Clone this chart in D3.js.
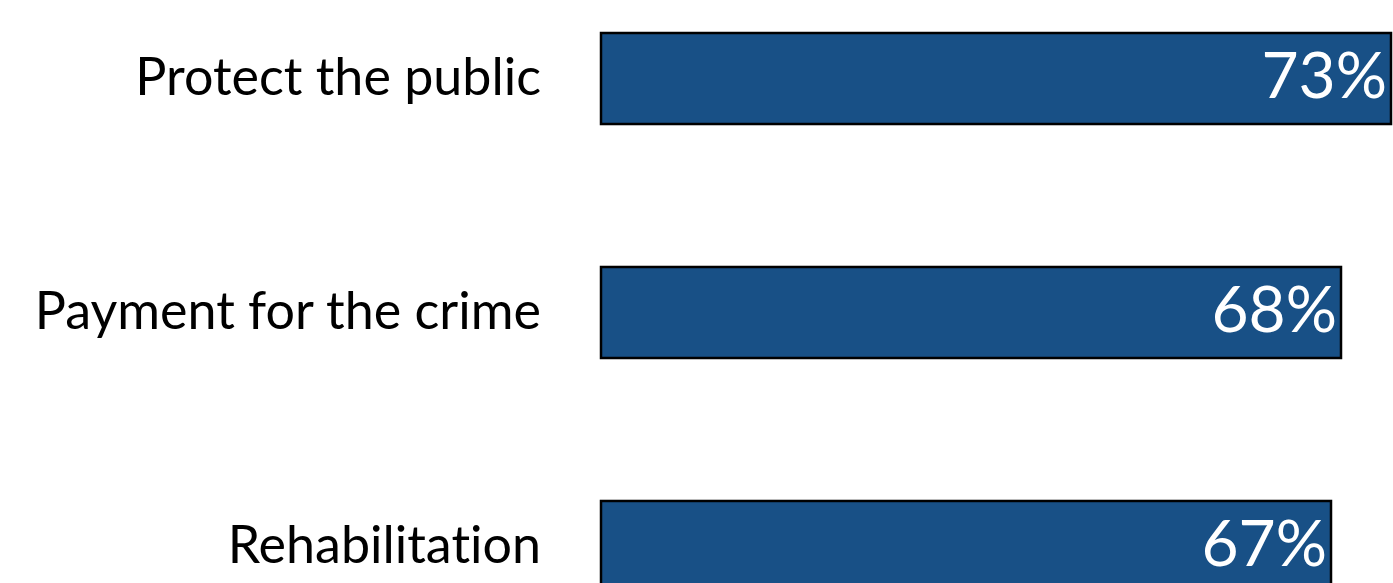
<!DOCTYPE html>
<html>
<head>
<meta charset="utf-8">
<script src="https://cdn.jsdelivr.net/npm/d3@7"></script>
<style>
  html, body { margin: 0; padding: 0; background: #fff; overflow: hidden; }
  svg { display: block; }
  text { font-variant-ligatures: none; font-feature-settings: "liga" 0; }
</style>
</head>
<body>
<svg id="chart" width="1393" height="583"></svg>
<script>
const categories = ["Protect the public", "Payment for the crime", "Rehabilitation"];
const values = [73, 68, 67];
const valueLabels = ["73%", "68%", "67%"];

const svg = d3.select("#chart");
const fontFamily = "Lato, 'Open Sans', sans-serif";

const x = d3.scaleLinear().domain([-6, 73]).range([601, 1391]);
const y = d3.scaleBand().domain(categories).range([33, 592]).paddingInner(0.611).paddingOuter(0);

const rows = categories.map((c, i) => ({ cat: c, val: values[i], label: valueLabels[i] }));

svg.selectAll("rect.bar").data(rows).join("rect")
  .attr("class", "bar")
  .attr("x", x(-6))
  .attr("y", d => y(d.cat))
  .attr("width", d => x(d.val) - x(-6))
  .attr("height", y.bandwidth())
  .attr("fill", "#185086")
  .attr("stroke", "#000")
  .attr("stroke-width", 2.5);

svg.selectAll("text.cat").data(rows).join("text")
  .attr("class", "cat")
  .attr("x", 541)
  .attr("y", d => y(d.cat) + y.bandwidth() / 2)
  .attr("dy", "0.31em")
  .attr("text-anchor", "end")
  .attr("font-family", fontFamily)
  .attr("font-size", 52)
  .attr("fill", "#000")
  .text(d => d.cat);

svg.selectAll("text.val").data(rows).join("text")
  .attr("class", "val")
  .attr("x", d => x(d.val) - 4)
  .attr("y", d => y(d.cat) + y.bandwidth() / 2)
  .attr("dy", "0.31em")
  .attr("text-anchor", "end")
  .attr("font-family", fontFamily)
  .attr("font-size", 64)
  .attr("fill", "#fff")
  .text(d => d.label);
</script>
</body>
</html>
